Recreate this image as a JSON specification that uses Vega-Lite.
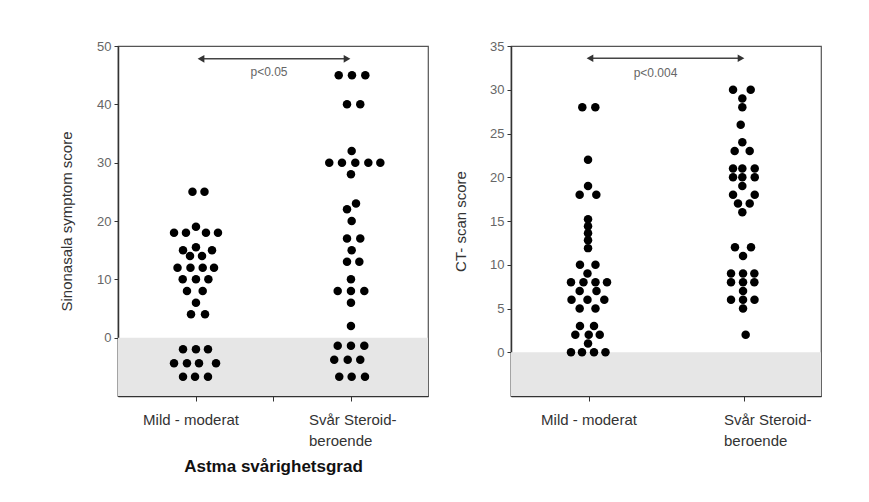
{
  "$schema": "https://vega.github.io/schema/vega-lite/v6.json",
  "padding": {"left": 58, "top": 39, "right": 5, "bottom": 5},
  "spacing": 23,
  "config": {
    "font": "Liberation Sans",
    "view": {"stroke": "#555", "strokeWidth": 1.2},
    "axis": {"grid": false, "domainColor": "#333", "domainWidth": 1.5, "tickColor": "#333", "labelColor": "#666", "labelFont": "Liberation Sans", "titleFont": "Liberation Sans"}
  },
  "datasets": {
    "sino": [
      {"g": "Mild - moderat", "x": 0.961, "y": 25}, {"g": "Mild - moderat", "x": 1.116, "y": 25},
      {"g": "Mild - moderat", "x": 1.006, "y": 19},
      {"g": "Mild - moderat", "x": 0.723, "y": 18}, {"g": "Mild - moderat", "x": 0.877, "y": 18}, {"g": "Mild - moderat", "x": 1.135, "y": 18}, {"g": "Mild - moderat", "x": 1.290, "y": 18},
      {"g": "Mild - moderat", "x": 1.006, "y": 15.5},
      {"g": "Mild - moderat", "x": 0.839, "y": 15}, {"g": "Mild - moderat", "x": 1.213, "y": 15},
      {"g": "Mild - moderat", "x": 0.929, "y": 14}, {"g": "Mild - moderat", "x": 1.084, "y": 14},
      {"g": "Mild - moderat", "x": 0.768, "y": 12}, {"g": "Mild - moderat", "x": 0.935, "y": 12}, {"g": "Mild - moderat", "x": 1.093, "y": 12}, {"g": "Mild - moderat", "x": 1.239, "y": 12},
      {"g": "Mild - moderat", "x": 0.835, "y": 10}, {"g": "Mild - moderat", "x": 1.006, "y": 10}, {"g": "Mild - moderat", "x": 1.166, "y": 10},
      {"g": "Mild - moderat", "x": 0.890, "y": 8}, {"g": "Mild - moderat", "x": 1.093, "y": 8},
      {"g": "Mild - moderat", "x": 1.006, "y": 6},
      {"g": "Mild - moderat", "x": 0.942, "y": 4}, {"g": "Mild - moderat", "x": 1.123, "y": 4},
      {"g": "Mild - moderat", "x": 0.839, "y": -2}, {"g": "Mild - moderat", "x": 1.006, "y": -2}, {"g": "Mild - moderat", "x": 1.161, "y": -2},
      {"g": "Mild - moderat", "x": 0.723, "y": -4.4}, {"g": "Mild - moderat", "x": 0.890, "y": -4.4}, {"g": "Mild - moderat", "x": 1.045, "y": -4.4}, {"g": "Mild - moderat", "x": 1.265, "y": -4.4},
      {"g": "Mild - moderat", "x": 0.839, "y": -6.7}, {"g": "Mild - moderat", "x": 0.994, "y": -6.7}, {"g": "Mild - moderat", "x": 1.161, "y": -6.7},
      {"g": "Svår", "x": 2.848, "y": 45}, {"g": "Svår", "x": 3.019, "y": 45}, {"g": "Svår", "x": 3.191, "y": 45},
      {"g": "Svår", "x": 2.955, "y": 40}, {"g": "Svår", "x": 3.126, "y": 40},
      {"g": "Svår", "x": 3.015, "y": 32},
      {"g": "Svår", "x": 2.726, "y": 30}, {"g": "Svår", "x": 2.890, "y": 30}, {"g": "Svår", "x": 3.062, "y": 30}, {"g": "Svår", "x": 3.230, "y": 30}, {"g": "Svår", "x": 3.385, "y": 30},
      {"g": "Svår", "x": 3.006, "y": 28},
      {"g": "Svår", "x": 3.071, "y": 23},
      {"g": "Svår", "x": 2.955, "y": 22},
      {"g": "Svår", "x": 3.015, "y": 20},
      {"g": "Svår", "x": 2.955, "y": 17}, {"g": "Svår", "x": 3.126, "y": 17},
      {"g": "Svår", "x": 3.015, "y": 15},
      {"g": "Svår", "x": 2.955, "y": 13}, {"g": "Svår", "x": 3.114, "y": 13},
      {"g": "Svår", "x": 3.006, "y": 10},
      {"g": "Svår", "x": 2.835, "y": 8}, {"g": "Svår", "x": 3.006, "y": 8}, {"g": "Svår", "x": 3.178, "y": 8},
      {"g": "Svår", "x": 3.006, "y": 6},
      {"g": "Svår", "x": 3.006, "y": 2},
      {"g": "Svår", "x": 2.835, "y": -1.4}, {"g": "Svår", "x": 3.006, "y": -1.4}, {"g": "Svår", "x": 3.178, "y": -1.4},
      {"g": "Svår", "x": 2.790, "y": -3.8}, {"g": "Svår", "x": 2.964, "y": -3.8}, {"g": "Svår", "x": 3.126, "y": -3.8},
      {"g": "Svår", "x": 2.855, "y": -6.7}, {"g": "Svår", "x": 3.015, "y": -6.7}, {"g": "Svår", "x": 3.187, "y": -6.7}
    ],
    "ct": [
      {"g": "Mild - moderat", "x": 0.920, "y": 28}, {"g": "Mild - moderat", "x": 1.088, "y": 28},
      {"g": "Mild - moderat", "x": 0.994, "y": 22},
      {"g": "Mild - moderat", "x": 0.994, "y": 19},
      {"g": "Mild - moderat", "x": 0.886, "y": 18}, {"g": "Mild - moderat", "x": 1.101, "y": 18},
      {"g": "Mild - moderat", "x": 0.994, "y": 15.2}, {"g": "Mild - moderat", "x": 0.994, "y": 14.4}, {"g": "Mild - moderat", "x": 0.994, "y": 13.6}, {"g": "Mild - moderat", "x": 0.994, "y": 12.8}, {"g": "Mild - moderat", "x": 0.994, "y": 11.9},
      {"g": "Mild - moderat", "x": 0.890, "y": 10}, {"g": "Mild - moderat", "x": 1.090, "y": 10},
      {"g": "Mild - moderat", "x": 0.987, "y": 9},
      {"g": "Mild - moderat", "x": 0.774, "y": 8}, {"g": "Mild - moderat", "x": 0.935, "y": 8}, {"g": "Mild - moderat", "x": 1.090, "y": 8}, {"g": "Mild - moderat", "x": 1.239, "y": 8},
      {"g": "Mild - moderat", "x": 0.886, "y": 7}, {"g": "Mild - moderat", "x": 1.103, "y": 7},
      {"g": "Mild - moderat", "x": 0.781, "y": 6}, {"g": "Mild - moderat", "x": 0.987, "y": 6}, {"g": "Mild - moderat", "x": 1.204, "y": 6},
      {"g": "Mild - moderat", "x": 0.886, "y": 5}, {"g": "Mild - moderat", "x": 1.090, "y": 5},
      {"g": "Mild - moderat", "x": 0.890, "y": 3}, {"g": "Mild - moderat", "x": 1.071, "y": 3},
      {"g": "Mild - moderat", "x": 0.830, "y": 2}, {"g": "Mild - moderat", "x": 1.003, "y": 2}, {"g": "Mild - moderat", "x": 1.145, "y": 2},
      {"g": "Mild - moderat", "x": 0.994, "y": 1},
      {"g": "Mild - moderat", "x": 0.774, "y": 0}, {"g": "Mild - moderat", "x": 0.916, "y": 0}, {"g": "Mild - moderat", "x": 1.071, "y": 0}, {"g": "Mild - moderat", "x": 1.219, "y": 0},
      {"g": "Svår", "x": 2.865, "y": 30}, {"g": "Svår", "x": 3.093, "y": 30},
      {"g": "Svår", "x": 2.985, "y": 29}, {"g": "Svår", "x": 2.985, "y": 28},
      {"g": "Svår", "x": 2.964, "y": 26},
      {"g": "Svår", "x": 2.985, "y": 24},
      {"g": "Svår", "x": 2.886, "y": 23}, {"g": "Svår", "x": 3.080, "y": 23},
      {"g": "Svår", "x": 2.865, "y": 21}, {"g": "Svår", "x": 2.985, "y": 21}, {"g": "Svår", "x": 3.145, "y": 21},
      {"g": "Svår", "x": 2.865, "y": 20}, {"g": "Svår", "x": 2.985, "y": 20}, {"g": "Svår", "x": 3.145, "y": 20},
      {"g": "Svår", "x": 2.985, "y": 19},
      {"g": "Svår", "x": 2.865, "y": 18}, {"g": "Svår", "x": 3.145, "y": 18},
      {"g": "Svår", "x": 2.929, "y": 17}, {"g": "Svår", "x": 3.080, "y": 17},
      {"g": "Svår", "x": 2.985, "y": 16},
      {"g": "Svår", "x": 2.890, "y": 12}, {"g": "Svår", "x": 3.097, "y": 12},
      {"g": "Svår", "x": 2.994, "y": 11},
      {"g": "Svår", "x": 2.839, "y": 9}, {"g": "Svår", "x": 2.994, "y": 9}, {"g": "Svår", "x": 3.140, "y": 9},
      {"g": "Svår", "x": 2.839, "y": 8}, {"g": "Svår", "x": 2.994, "y": 8}, {"g": "Svår", "x": 3.140, "y": 8},
      {"g": "Svår", "x": 2.994, "y": 7},
      {"g": "Svår", "x": 2.839, "y": 6}, {"g": "Svår", "x": 2.994, "y": 6}, {"g": "Svår", "x": 3.142, "y": 6},
      {"g": "Svår", "x": 2.994, "y": 5},
      {"g": "Svår", "x": 3.028, "y": 2}
    ]
  },
  "hconcat": [
    {
      "width": 310,
      "height": 350,
      "layer": [
        {
          "data": {"values": [{"y": -10, "y2": 0}]},
          "mark": {"type": "rect", "color": "#e6e6e6"},
          "encoding": {
            "x": {"datum": 0, "type": "quantitative", "scale": {"domain": [0, 4], "nice": false, "zero": false},
              "axis": {"values": [1, 2, 3], "labelExpr": "datum.value == 1 ? 'Mild - moderat' : datum.value == 3 ? ['Svår Steroid-', 'beroende'] : ''",
                "tickSize": 5, "labelPadding": 11, "labelFontSize": 15, "labelColor": "#333", "labelLineHeight": 21, "labelFlush": false, "labelOverlap": false,
                "labelBaseline": "top",
                "labelAlign": {"condition": {"test": "datum.value == 3", "value": "left"}, "value": "center"},
                "labelOffset": {"condition": {"test": "datum.value == 3", "value": -42}, "value": -5},
                "title": "Astma svårighetsgrad", "titleFontSize": 17, "titleFontWeight": "bold", "titleColor": "#111", "titlePadding": 10}},
            "x2": {"datum": 4},
            "y": {"field": "y", "type": "quantitative", "scale": {"domain": [-10, 50], "nice": false, "zero": false},
              "axis": {"values": [0, 10, 20, 30, 40, 50], "tickSize": 4, "labelPadding": 3, "labelFontSize": 13, "labelColor": "#666",
                "title": "Sinonasala symptom score", "titleFontSize": 15, "titleFontWeight": "normal", "titleColor": "#333", "titlePadding": 22}},
            "y2": {"field": "y2"}
          }
        },
        {
          "data": {"values": [{"x": 1.07, "x2": 2.955, "y": 47.8}]},
          "mark": {"type": "rule", "color": "#444", "strokeWidth": 1.5},
          "encoding": {"x": {"field": "x", "type": "quantitative"}, "x2": {"field": "x2"}, "y": {"field": "y", "type": "quantitative"}}
        },
        {
          "data": {"values": [{"x": 1.071, "y": 47.8, "dir": "left"}, {"x": 2.955, "y": 47.8, "dir": "right"}]},
          "mark": {"type": "point", "filled": true, "color": "#333", "size": 60, "opacity": 1},
          "encoding": {"x": {"field": "x", "type": "quantitative"}, "y": {"field": "y", "type": "quantitative"},
            "shape": {"field": "dir", "type": "nominal", "scale": {"domain": ["left", "right"], "range": ["triangle-left", "triangle-right"]}, "legend": null}}
        },
        {
          "data": {"values": [{"x": 1.948, "y": 45.5, "label": "p<0.05"}]},
          "mark": {"type": "text", "fontSize": 12, "color": "#666", "baseline": "middle", "font": "Liberation Sans"},
          "encoding": {"x": {"field": "x", "type": "quantitative"}, "y": {"field": "y", "type": "quantitative"}, "text": {"field": "label"}}
        },
        {
          "data": {"name": "sino"},
          "mark": {"type": "circle", "size": 72, "color": "#000", "opacity": 1},
          "encoding": {"x": {"field": "x", "type": "quantitative"}, "y": {"field": "y", "type": "quantitative"}}
        }
      ]
    },
    {
      "width": 310,
      "height": 350,
      "layer": [
        {
          "data": {"values": [{"y": -5, "y2": 0}]},
          "mark": {"type": "rect", "color": "#e6e6e6"},
          "encoding": {
            "x": {"datum": 0, "type": "quantitative", "scale": {"domain": [0, 4], "nice": false, "zero": false},
              "axis": {"values": [1, 3], "labelExpr": "datum.value == 1 ? 'Mild - moderat' : ['Svår Steroid-', 'beroende']",
                "tickSize": 5, "labelPadding": 11, "labelFontSize": 15, "labelColor": "#333", "labelLineHeight": 21, "labelFlush": false, "labelOverlap": false,
                "labelBaseline": "top",
                "labelAlign": {"condition": {"test": "datum.value == 3", "value": "left"}, "value": "center"},
                "labelOffset": {"condition": {"test": "datum.value == 3", "value": -20}, "value": 0},
                "title": null}},
            "x2": {"datum": 4},
            "y": {"field": "y", "type": "quantitative", "scale": {"domain": [-5, 35], "nice": false, "zero": false},
              "axis": {"values": [0, 5, 10, 15, 20, 25, 30, 35], "tickSize": 4, "labelPadding": 3, "labelFontSize": 13, "labelColor": "#666",
                "title": "CT- scan score", "titleFontSize": 15, "titleFontWeight": "normal", "titleColor": "#333", "titlePadding": 21}},
            "y2": {"field": "y2"}
          }
        },
        {
          "data": {"values": [{"x": 1.019, "x2": 2.968, "y": 33.6}]},
          "mark": {"type": "rule", "color": "#444", "strokeWidth": 1.5},
          "encoding": {"x": {"field": "x", "type": "quantitative"}, "x2": {"field": "x2"}, "y": {"field": "y", "type": "quantitative"}}
        },
        {
          "data": {"values": [{"x": 1.019, "y": 33.6, "dir": "left"}, {"x": 2.968, "y": 33.6, "dir": "right"}]},
          "mark": {"type": "point", "filled": true, "color": "#333", "size": 60, "opacity": 1},
          "encoding": {"x": {"field": "x", "type": "quantitative"}, "y": {"field": "y", "type": "quantitative"},
            "shape": {"field": "dir", "type": "nominal", "scale": {"domain": ["left", "right"], "range": ["triangle-left", "triangle-right"]}, "legend": null}}
        },
        {
          "data": {"values": [{"x": 1.865, "y": 31.95, "label": "p<0.004"}]},
          "mark": {"type": "text", "fontSize": 12, "color": "#666", "baseline": "middle", "font": "Liberation Sans"},
          "encoding": {"x": {"field": "x", "type": "quantitative"}, "y": {"field": "y", "type": "quantitative"}, "text": {"field": "label"}}
        },
        {
          "data": {"name": "ct"},
          "mark": {"type": "circle", "size": 72, "color": "#000", "opacity": 1},
          "encoding": {"x": {"field": "x", "type": "quantitative"}, "y": {"field": "y", "type": "quantitative"}}
        }
      ]
    }
  ]
}
